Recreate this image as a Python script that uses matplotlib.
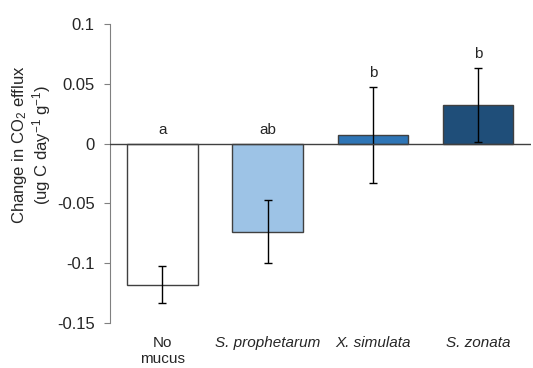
import matplotlib

matplotlib.use("Agg")

import matplotlib.pyplot as plt

plt.rcParams["font.family"] = ["Liberation Sans", "DejaVu Sans"]
plt.rcParams["mathtext.fontset"] = "custom"
plt.rcParams["mathtext.rm"] = "Liberation Sans"
plt.rcParams["mathtext.it"] = "Liberation Sans:italic"
plt.rcParams["mathtext.default"] = "regular"

categories = ["No\nmucus", "S. prophetarum", "X. simulata", "S. zonata"]
italic = [False, True, True, True]
means = [-0.118, -0.0735, 0.0073, 0.032]
errors = [0.0155, 0.0265, 0.040, 0.031]
letters = ["a", "ab", "b", "b"]
colors = ["#FFFFFF", "#9DC3E6", "#2E75B6", "#1F4E79"]

fig = plt.figure(figsize=(5.33, 3.68), dpi=100)
ax = fig.add_axes([0.206, 0.122, 0.79, 0.813])

x = range(len(categories))
ax.bar(x, means, width=0.67, color=colors, edgecolor="#404040", linewidth=1.0, zorder=2)
ax.errorbar(x, means, yerr=errors, fmt="none", ecolor="black", elinewidth=1.0,
            capsize=3, capthick=1.0, zorder=3)
ax.axhline(0, color="#404040", linewidth=1.0, zorder=4)

for i, (m, e, lab) in enumerate(zip(means, errors, letters)):
    top = m + e if m > 0 else 0.0
    ax.annotate(lab, (i, top), xytext=(0, 5), textcoords="offset points",
                ha="center", va="bottom", fontsize=11, color="#262626")

ax.set_xlim(-0.5, 3.5)
ax.set_ylim(-0.15, 0.1)
ax.set_yticks([-0.15, -0.1, -0.05, 0, 0.05, 0.1])
ax.set_yticklabels(["-0.15", "-0.1", "-0.05", "0", "0.05", "0.1"])
ax.tick_params(axis="y", length=4, color="#808080", labelsize=12, labelcolor="#262626", pad=7)
ax.set_xticks([])
for name in ("top", "right", "bottom"):
    ax.spines[name].set_visible(False)
ax.spines["left"].set_color("#808080")

for i, (cat, it) in enumerate(zip(categories, italic)):
    ax.text(i, -0.1605, cat, ha="center", va="top", fontsize=11, color="#262626",
            style="italic" if it else "normal", linespacing=1.25)

ax.set_ylabel("Change in CO$_2$ efflux\n(ug C day$^{-1}$ g$^{-1}$)", fontsize=12,
              color="#262626", linespacing=1.05)
ax.yaxis.set_label_coords(-0.136, 0.595)

fig.savefig("out.png", dpi=100)
